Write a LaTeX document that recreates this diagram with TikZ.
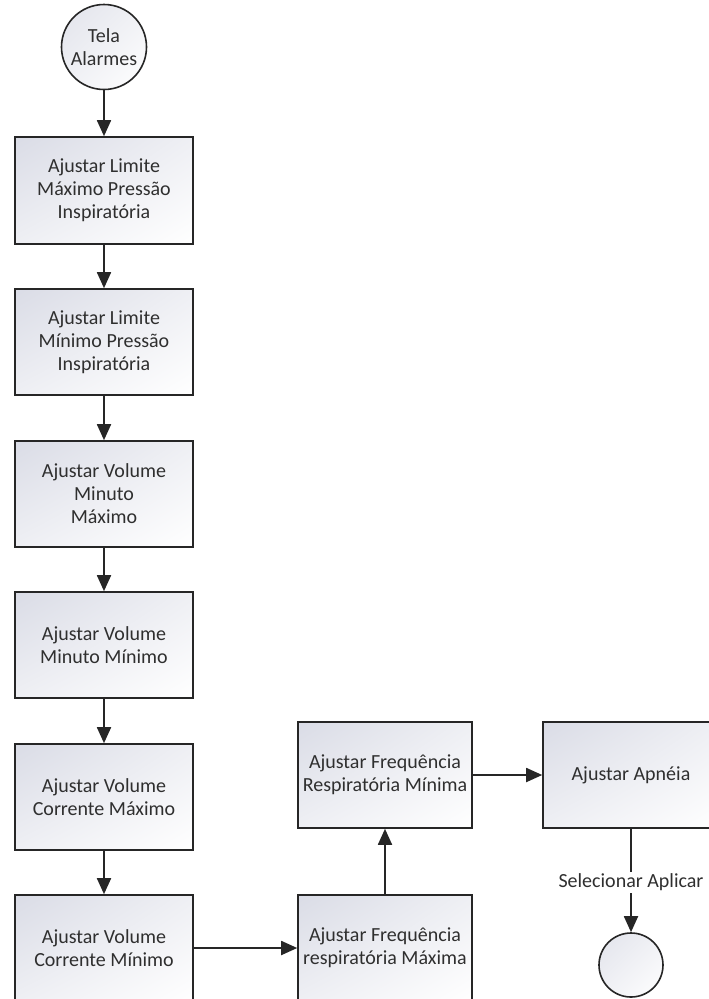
\documentclass[tikz,border=0pt]{standalone}
\usepackage{fontspec}
\setmainfont{Carlito}
\usetikzlibrary{arrows.meta,shadings}
\definecolor{txt}{HTML}{2F2F2F}
\definecolor{edge}{HTML}{262626}
\definecolor{shadetop}{HTML}{DADCE6}
\tikzset{
  stepbox/.style={draw=edge, line width=1.6pt,
    upper left=shadetop, upper right=shadetop!45, lower left=shadetop!45, lower right=white,
    minimum width=178pt, minimum height=106pt, align=center, text=txt,
    font=\fontsize{20}{23}\selectfont, inner sep=2pt},
  endpoint/.style={circle, draw=edge, line width=1.6pt,
    upper left=shadetop!80, upper right=shadetop!40, lower left=shadetop!40, lower right=white,
    align=center, text=txt, font=\fontsize{20}{23}\selectfont, inner sep=0pt},
  flow/.style={draw=edge, line width=1.8pt, -{Triangle[width=14pt,length=16pt]}},
  lbl/.style={fill=white, text=txt, font=\fontsize{20}{23}\selectfont, inner sep=2pt}
}
\begin{document}
\begin{tikzpicture}[x=1pt,y=-1pt]
\useasboundingbox (0,0) rectangle (709,999);
\clip (0,0) rectangle (709,999);
\fill[white] (0,0) rectangle (709,999);
\node[endpoint, minimum size=85pt] (start) at (104,47) {Tela\\Alarmes};
\node[stepbox, minimum height=107pt] (b1) at (104,190.5) {Ajustar Limite\\Máximo Pressão\\Inspiratória};
\node[stepbox] (b2) at (104,342) {Ajustar Limite\\Mínimo Pressão\\Inspiratória};
\node[stepbox] (b3) at (104,494) {Ajustar Volume\\Minuto\\Máximo};
\node[stepbox] (b4) at (104,645) {Ajustar Volume\\Minuto Mínimo};
\node[stepbox] (b5) at (104,797) {Ajustar Volume\\Corrente Máximo};
\node[stepbox] (b6) at (104,948) {Ajustar Volume\\Corrente Mínimo};
\node[stepbox, minimum width=174pt] (b7) at (385,948) {Ajustar Frequência\\respiratória Máxima};
\node[stepbox, minimum width=174pt] (b8) at (385,775) {Ajustar Frequência\\Respiratória Mínima};
\node[stepbox, minimum width=176pt] (b9) at (631,775) {Ajustar Apnéia};
\node[endpoint, minimum size=64pt] (end) at (631,965) {};
\draw[flow] (start.south) -- (b1.north);
\draw[flow] (b1.south) -- (b2.north);
\draw[flow] (b2.south) -- (b3.north);
\draw[flow] (b3.south) -- (b4.north);
\draw[flow] (b4.south) -- (b5.north);
\draw[flow] (b5.south) -- (b6.north);
\draw[flow] (b6.east) -- (b7.west);
\draw[flow] (b7.north) -- (b8.south);
\draw[flow] (b8.east) -- (b9.west);
\draw[flow] (b9.south) -- node[lbl, pos=0.52] (sel) {Selecionar Aplicar} (end.north);
\end{tikzpicture}
\end{document}
